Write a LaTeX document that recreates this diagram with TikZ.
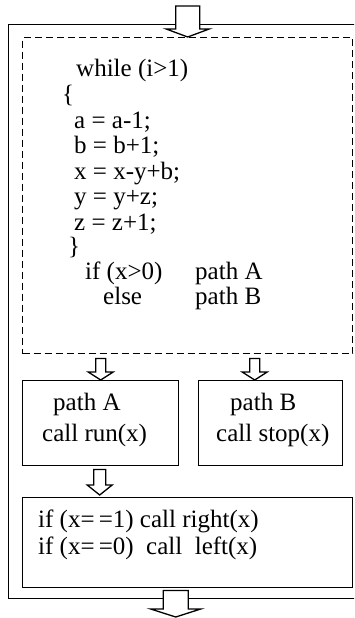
\documentclass[tikz,border=0pt]{standalone}
\usepackage{fontspec}
\setmainfont{Liberation Serif}
\usetikzlibrary{calc}

\tikzset{
  frame/.style={draw, line width=1.4pt, inner sep=0pt, anchor=north west},
  loopbox/.style={frame, dashed, dash pattern=on 7pt off 4pt},
  code/.style={anchor=base west, inner sep=0pt, font=\fontsize{25}{27}\selectfont},
  hollow/.style={draw, fill=white, line width=1.3pt, line join=miter},
}

% downward hollow block arrow: shaft top, tip, shaft half width, head half width, head length
\newcommand\hollowdown[5]{%
  \draw[hollow] ($(#1)+(-#3,0)$) -- ($(#2)+(-#3,-#5)$) -- ($(#2)+(-#4,-#5)$) -- (#2)
    -- ($(#2)+(#4,-#5)$) -- ($(#2)+(#3,-#5)$) -- ($(#1)+(#3,0)$) -- cycle;}

\begin{document}
\begin{tikzpicture}[x=1pt, y=-1pt]
  \useasboundingbox (0,0) rectangle (354,618);
  \clip (0,0) rectangle (354,618);

  % outer frame, running past the right edge
  \node[frame, minimum width=420pt, minimum height=574pt] (outer) at (8,24) {};

  % loop block
  \node[loopbox, minimum width=330pt, minimum height=316pt] (loop) at (22,37) {};
  \node[code] (l1) at (76,76) {while (i>1)};
  \node[code] (l2) at (62,102) {\{};
  \node[code] (l3) at (74,128) {a = a-1;};
  \node[code] (l4) at (74,153.5) {b = b+1;};
  \node[code] (l5) at (74,179) {x = x-y+b;};
  \node[code] (l6) at (74,204.5) {y = y+z;};
  \node[code] (l7) at (74,230) {z = z+1;};
  \node[code] (l8) at (68,254) {\}};
  \node[code] (l9) at (85,279) {if (x>0)};
  \node[code] (l10) at (103,304) {else};
  \node[code] (l11) at (195,279) {path A};
  \node[code] (l12) at (195,304) {path B};

  % branch blocks
  \node[frame, minimum width=156pt, minimum height=85pt] (pa) at (22,380) {};
  \node[code] (pa1) at (53,410) {path A};
  \node[code] (pa2) at (42,441) {call run(x)};

  \node[frame, minimum width=144pt, minimum height=85pt] (pb) at (198,380) {};
  \node[code] (pb1) at (230,410) {path B};
  \node[code] (pb2) at (216,441) {call stop(x)};

  % dispatch block
  \node[frame, minimum width=330pt, minimum height=90pt] (disp) at (22,497) {};
  \node[code] (d1) at (38,527) {if (x=\,=1) call right(x)};
  \node[code] (d2) at (38,554) {if (x=\,=0)\ \ call\ \ left(x)};

  % flow arrows
  \coordinate (entry) at (loop.north |- 0,6);
  \hollowdown{entry}{loop.north}{12}{21.5}{8}

  \coordinate (toA) at ($(loop.south -| pa.north)+(0,4)$);
  \hollowdown{toA}{pa.north}{5}{12.5}{8}

  \coordinate (tipB) at ($(pb.north)+(-16,0)$);
  \coordinate (toB) at ($(loop.south -| tipB)+(0,4)$);
  \hollowdown{toB}{tipB}{5}{12.5}{8}

  \coordinate (fromA) at ($(pa.south)+(-1,3)$);
  \coordinate (tipD) at ($(fromA |- disp.north)+(0,-2)$);
  \hollowdown{fromA}{tipD}{6}{12.5}{10}

  \coordinate (exitTop) at ($(disp.south)+(-12,2)$);
  \coordinate (exit) at (exitTop |- 0,617);
  \hollowdown{exitTop}{exit}{12.5}{25}{8}
\end{tikzpicture}
\end{document}
